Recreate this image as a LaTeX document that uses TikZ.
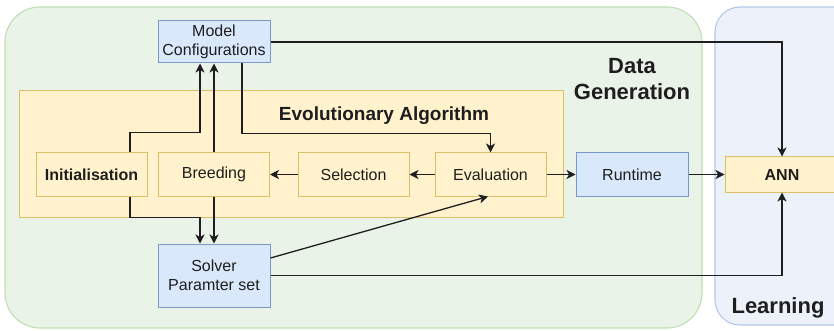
\documentclass[tikz,border=0pt]{standalone}
\usepackage{fontspec}
\setmainfont{Liberation Sans}
\usetikzlibrary{positioning, arrows.meta}
\definecolor{genfill}{RGB}{234,243,232}
\definecolor{gendraw}{RGB}{192,222,178}
\definecolor{lrnfill}{RGB}{236,241,250}
\definecolor{lrndraw}{RGB}{182,200,232}
\definecolor{eafill}{RGB}{255,242,204}
\definecolor{eadraw}{RGB}{220,190,100}
\definecolor{blfill}{RGB}{218,232,252}
\definecolor{bldraw}{RGB}{120,152,200}
\definecolor{txt}{RGB}{30,30,30}

\begin{document}
\begin{tikzpicture}[x=1pt,y=-1pt,
  every node/.style={text=txt, inner sep=0pt},
  ea/.style={draw=eadraw, fill=eafill, line width=1pt, minimum width=111pt, minimum height=43pt, font=\fontsize{16}{19}\selectfont},
  bl/.style={draw=bldraw, fill=blfill, line width=1pt, minimum width=112pt, minimum height=43pt, align=center, font=\fontsize{16}{19}\selectfont},
  title/.style={font=\bfseries\fontsize{22}{26}\selectfont, align=center},
  flow/.style={-{Stealth[length=9pt,width=9pt,inset=2.5pt]}, line width=1.3pt, draw=txt}]
 \clip (0,0) rectangle (834,331);

 % containers
 \node[draw=gendraw, fill=genfill, line width=1.1pt, rounded corners=35pt, minimum width=697pt, minimum height=321pt] (gen) at (353.5,167.5) {};
 \node[draw=lrndraw, fill=lrnfill, line width=1.1pt, rounded corners=25pt, minimum width=160pt, minimum height=318pt] (lrn) at (795,166) {};
 \node[draw=eadraw, fill=eafill, line width=1pt, minimum width=544pt, minimum height=126pt] (evo) at (291,154) {};
 \node[title] (gentitle) at (632,79) {Data\\Generation};
 \node[title] (lrntitle) at (778,308) {Learning};
 \node[font=\bfseries\fontsize{19}{22}\selectfont] (evotitle) at (384,116) {Evolutionary Algorithm};

 % boxes
 \node[bl, minimum height=42pt] (model) at (214,42) {Model\\Configurations};
 \node[ea, font=\bfseries\fontsize{16}{19}\selectfont] (init) at (91.5,174.5) {Initialisation};
 \node[ea] (breed) at (214,174.5) {Breeding};
 \node[ea] (sel) at (353.5,174.5) {Selection};
 \node[ea] (eval) at (490.5,174.5) {Evaluation};
 \node[bl] (run) at (632,174.5) {Runtime};
 \node[ea, minimum width=114pt, minimum height=35pt, font=\bfseries\fontsize{16}{19}\selectfont] (ann) at (782,174.5) {ANN};
 \node[bl, minimum height=63pt] (solver) at (214,275.5) {Solver\\Paramter set};

 % connectors
 \draw[flow] ([xshift=38.5pt]init.north) -- ++(0,-20) -| ([xshift=-14pt]model.south);
 \draw[flow] (breed.north) -- (model.south);
 \draw[flow] ([xshift=28pt]model.south) -- ++(0,70) -| (eval.north);
 \draw[flow] ([xshift=38.5pt]init.south) -- ++(0,21) -| ([xshift=-14pt]solver.north);
 \draw[flow] (breed.south) -- (solver.north);
 \draw[flow] (sel.west) -- (breed.east);
 \draw[flow] (eval.west) -- (sel.east);
 \draw[flow] (eval.east) -- (run.west);
 \draw[flow] (run.east) -- (ann.west);
 \draw[flow] ([yshift=17.5pt]solver.east) -- ([xshift=-2.5pt]eval.south);
 \draw[flow] (solver.east) -| (ann.south);
 \draw[flow] (model.east) -| (ann.north);
\end{tikzpicture}
\end{document}
